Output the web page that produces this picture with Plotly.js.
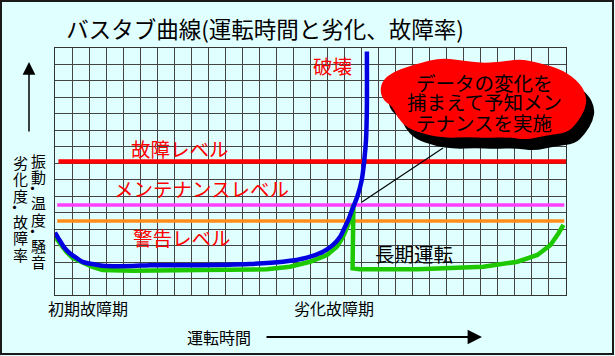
<!DOCTYPE html>
<html>
<head>
<meta charset="utf-8">
<script src="https://cdn.plot.ly/plotly-3.0.1.min.js"></script>
<style>html,body{margin:0;padding:0;background:#e0ffff;}</style>
</head>
<body>
<div id="chart" style="width:615px;height:356px;"></div>
<script>
// ---- data ----
const blueX = [0,0.26,0.56,0.85,1.26,1.62,2.2,2.79,4.56,5.56,8.5,11.44,13.38,14.79,15.74,16.32,16.74,17.03,17.22,17.52,17.75,18.01,18.16,18.26,18.31,18.31];
const blueY = [3.79,3.34,2.86,2.55,2.25,2.01,1.88,1.78,1.76,1.81,1.81,1.88,2.02,2.27,2.63,3.04,3.54,4.15,4.56,5.37,5.98,6.99,8.21,9.42,11.45,14.79];
const greenX = [0,0.26,0.68,1.03,1.62,2.2,2.79,4.56,8.5,12.44,13.79,14.97,15.97,16.56,16.91,17.21,17.52,17.47,17.9,21.28,25.15,27.15,28.32,29.09,29.56,29.85];
const greenY = [3.53,3.16,2.61,2.25,1.95,1.70,1.52,1.48,1.52,1.56,1.72,2.02,2.43,2.94,3.54,4.26,5.47,1.62,1.57,1.56,1.72,2.02,2.43,3.04,3.75,4.26];
const levelNames = ['故障レベル','メンテナンスレベル','警告レベル'];
const levelValues = [8.10, 5.47, 4.50];
const levelX0 = [0.2, 0.13, 0.13];
const levelX1 = [30, 29.9, 29.9];
const titleText = 'バスタブ曲線(運転時間と劣化、故障率)';
const yLabelRight = '振動・温度・騒音';
const yLabelLeft = '劣化度・故障率';
const phaseLabels = ['初期故障期','劣化故障期'];
const xLabel = '運転時間';
const breakLabel = '破壊';
const longRunLabel = '長期運転';
const cloudLines = ['データの変化を','捕まえて予知メン','テナンスを実施'];

// ---- layout helpers ----
const L=55, T=48, W=511, H=247;
const px = x => (x - L) / W;
const py = y => (T + H - y) / H;
const FONT = 'Noto Sans CJK JP, Noto Sans, sans-serif';
const levelColors = ['#ff0000','#ff40ff','#ff8c1a'];
const levelWidths = [4.5, 3.5, 3.5];

const traces = [];
levelValues.forEach((v,i)=>{
  traces.push({x:[levelX0[i], levelX1[i]], y:[v, v], mode:'lines', name:levelNames[i],
    line:{color:levelColors[i], width:levelWidths[i]}, hoverinfo:'skip', cliponaxis:false});
});
traces.push({x:greenX, y:greenY, mode:'lines', line:{color:'#1ec800', width:4.5, shape:'linear'}, hoverinfo:'skip'});
traces.push({x:blueX, y:blueY, mode:'lines', line:{color:'#0000e0', width:4.5, shape:'spline', smoothing:0.8}, hoverinfo:'skip'});

const ann = [];
function txt(t, x, y, size, color, extra){
  ann.push(Object.assign({text:t, xref:'paper', yref:'paper', x:px(x), y:py(y), xanchor:'center', yanchor:'middle',
    showarrow:false, font:{family:FONT, size:size, color:color}}, extra||{}));
}
// red level labels
txt(levelNames[0], 180, 148, 19.5, '#ff0000');
txt(levelNames[1], 201, 188, 19.5, '#ff0000');
txt(levelNames[2], 182, 237, 19.5, '#ff0000');
txt(breakLabel, 332.5, 65, 19.5, '#ff0000');
txt(longRunLabel, 414, 253, 19.5, '#000000');
cloudLines.forEach((s,i)=> txt(s, 484, 82 + i*20, 19.5, '#000000'));
txt(phaseLabels[0], 87.5, 308, 16, '#000000');
txt(phaseLabels[1], 333.5, 308, 16, '#000000');
txt(xLabel, 218.5, 337, 16, '#000000');

// vertical y labels
function vcol(str, x, y0){
  let y = y0, prevDot = false;
  [...str].forEach((ch,i)=>{
    const dot = ch === '・';
    if(i>0){ y += dot ? 11 : (prevDot ? 15 : 16.5); }
    txt(ch, dot ? x-6 : x, y, 15, '#000000');
    prevDot = dot;
  });
}
vcol(yLabelRight, 38.5, 160);
vcol(yLabelLeft, 20, 162);

// arrows
ann.push({text:'', xref:'paper', yref:'paper', x:px(29), y:py(62), ax:0, ay:71, showarrow:true,
  arrowhead:2, arrowsize:1.7, arrowwidth:1.5, arrowcolor:'#000'});
ann.push({text:'', xref:'paper', yref:'paper', x:px(482), y:py(337), ax:-217, ay:0, showarrow:true,
  arrowhead:2, arrowsize:1.6, arrowwidth:1.8, arrowcolor:'#000'});

// cloud
const cloudPts = [[380,90],[383,80],[393,72],[407,67],[420,63],[440,58],[460,60],[480,63],[500,62],[520,59],[540,63],[563,70],[580,83],[587,97],[585,110],[577,123],[567,133],[547,135],[527,140],[507,137],[487,138],[467,137],[447,138],[427,135],[407,128],[397,117],[393,107],[383,100]];
function cloudPath(dx, dy){
  const p = cloudPts.map(([x,y])=>[px(x+dx), py(y+dy)]);
  const n = p.length;
  const mid = (a,b)=>[(a[0]+b[0])/2,(a[1]+b[1])/2];
  let m = mid(p[n-1], p[0]);
  let d = `M${m[0]},${m[1]}`;
  for(let i=0;i<n;i++){
    const c = p[i], nm = mid(p[i], p[(i+1)%n]);
    d += ` Q${c[0]},${c[1]} ${nm[0]},${nm[1]}`;
  }
  return d + ' Z';
}
const shapes = [
  {type:'path', xref:'paper', yref:'paper', path:cloudPath(8,11), fillcolor:'#000', line:{width:0}, layer:'above'},
  {type:'path', xref:'paper', yref:'paper', path:cloudPath(0,0), fillcolor:'#ff0000', line:{width:0}, layer:'above'},
  {type:'line', xref:'paper', yref:'paper', x0:px(443), y0:py(148), x1:px(362), y1:py(202), line:{color:'#000', width:1.2}, layer:'above'},
  {type:'rect', xref:'paper', yref:'paper', x0:px(1), y0:py(1), x1:px(613), y1:py(354), line:{color:'#1a1a1a', width:2}, layer:'above'}
];

const axisCommon = {showticklabels:false, ticks:'', zeroline:false, showgrid:true, gridcolor:'#444', gridwidth:1,
  showline:true, mirror:true, linecolor:'#333', linewidth:1, fixedrange:true, dtick:1};

const layout = {
  width:615, height:356, autosize:false,
  margin:{l:L, r:615-L-W, t:T, b:356-T-H, pad:0},
  paper_bgcolor:'#e0ffff', plot_bgcolor:'#e0ffff',
  showlegend:false,
  title:{text:titleText, font:{family:FONT, size:22.5, color:'#000'}, xref:'container', yref:'container',
    x:265/615, xanchor:'center', y:1-30/356, yanchor:'middle'},
  xaxis:Object.assign({range:[0,30], tick0:0}, axisCommon),
  yaxis:Object.assign({range:[0,15], tick0:0}, axisCommon),
  annotations:ann, shapes:shapes
};
Plotly.newPlot('chart', traces, layout, {staticPlot:true, displayModeBar:false});
</script>
</body>
</html>
